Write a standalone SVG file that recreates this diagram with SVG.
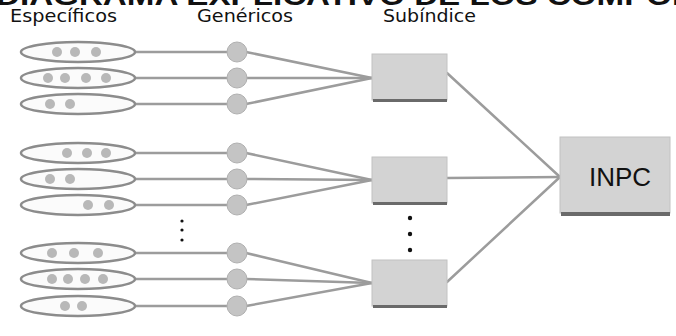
<svg xmlns="http://www.w3.org/2000/svg" width="676" height="336" viewBox="0 0 676 336">
  <defs>
    <style>
      .title { font-family: "Liberation Sans", Arial, sans-serif; font-weight: bold; font-size: 28px; fill: #111; }
      .hdr { font-family: "DejaVu Sans Condensed", "Liberation Sans", sans-serif; font-size: 18px; fill: #111; }
      .ell { fill: #fbfbfb; stroke: #8c8c8c; stroke-width: 2.5; }
      .dot { fill: #b8b8b8; }
      .gen { fill: #c4c4c4; stroke: #b0b0b0; stroke-width: 1; }
      .wire { stroke: #9c9c9c; stroke-width: 2.5; fill: none; stroke-linecap: round; }
      .box { fill: #d3d3d3; stroke: #c2c2c2; stroke-width: 1; }
      .shadow { fill: #6a6a6a; }
      .ellip { fill: #111; }
      .lbl { font-family: "Liberation Sans", Arial, sans-serif; font-size: 26px; fill: #111; }
    </style>
  </defs>

  <rect width="676" height="336" fill="#ffffff"/>

  <!-- heading, running off the top edge -->
  <text class="title" x="-4" y="5" textLength="700" lengthAdjust="spacingAndGlyphs">DIAGRAMA EXPLICATIVO DE LOS COMPON</text>

  <!-- column headers -->
  <text class="hdr" x="10" y="22" textLength="107" lengthAdjust="spacingAndGlyphs">Específicos</text>
  <text class="hdr" x="197" y="22" textLength="96" lengthAdjust="spacingAndGlyphs">Genéricos</text>
  <text class="hdr" x="383" y="22" textLength="93" lengthAdjust="spacingAndGlyphs">Subíndice</text>

  <!-- connectors -->
  <g id="connectors">
    <!-- specific -> generic -->
    <line class="wire" x1="135" y1="52" x2="228" y2="52"/>
    <line class="wire" x1="135" y1="78" x2="228" y2="78"/>
    <line class="wire" x1="135" y1="104" x2="228" y2="104"/>
    <line class="wire" x1="135" y1="153" x2="228" y2="153"/>
    <line class="wire" x1="135" y1="179" x2="228" y2="179"/>
    <line class="wire" x1="135" y1="205" x2="228" y2="205"/>
    <line class="wire" x1="135" y1="253" x2="228" y2="253"/>
    <line class="wire" x1="135" y1="279" x2="228" y2="279"/>
    <line class="wire" x1="135" y1="306" x2="228" y2="306"/>
    <!-- generic -> sub-index -->
    <line class="wire" x1="246" y1="52" x2="372" y2="78"/>
    <line class="wire" x1="246" y1="78" x2="372" y2="78"/>
    <line class="wire" x1="246" y1="104" x2="372" y2="78"/>
    <line class="wire" x1="246" y1="153" x2="372" y2="180"/>
    <line class="wire" x1="246" y1="179" x2="372" y2="180"/>
    <line class="wire" x1="246" y1="205" x2="372" y2="180"/>
    <line class="wire" x1="246" y1="253" x2="372" y2="283"/>
    <line class="wire" x1="246" y1="279" x2="372" y2="283"/>
    <line class="wire" x1="246" y1="306" x2="372" y2="283"/>
    <!-- sub-index -> INPC -->
    <line class="wire" x1="447" y1="73" x2="560" y2="177"/>
    <line class="wire" x1="447" y1="178" x2="560" y2="177"/>
    <line class="wire" x1="447" y1="282" x2="560" y2="177"/>
  </g>

  <!-- specific items -->
  <g id="esp-1"><ellipse class="ell" cx="78" cy="52" rx="57" ry="10"/>
    <circle class="dot" cx="57" cy="52" r="5"/><circle class="dot" cx="75" cy="52" r="5"/><circle class="dot" cx="96" cy="52" r="5"/></g>
  <g id="esp-2"><ellipse class="ell" cx="78" cy="78" rx="57" ry="10"/>
    <circle class="dot" cx="48" cy="78" r="5"/><circle class="dot" cx="65" cy="78" r="5"/><circle class="dot" cx="86" cy="78" r="5"/><circle class="dot" cx="106" cy="78" r="5"/></g>
  <g id="esp-3"><ellipse class="ell" cx="78" cy="104" rx="57" ry="10"/>
    <circle class="dot" cx="50" cy="104" r="5"/><circle class="dot" cx="70" cy="104" r="5"/></g>
  <g id="esp-4"><ellipse class="ell" cx="78" cy="153" rx="57" ry="10"/>
    <circle class="dot" cx="67" cy="153" r="5"/><circle class="dot" cx="87" cy="153" r="5"/><circle class="dot" cx="106" cy="153" r="5"/></g>
  <g id="esp-5"><ellipse class="ell" cx="78" cy="179" rx="57" ry="10"/>
    <circle class="dot" cx="50" cy="179" r="5"/><circle class="dot" cx="70" cy="179" r="5"/></g>
  <g id="esp-6"><ellipse class="ell" cx="78" cy="205" rx="57" ry="10"/>
    <circle class="dot" cx="88" cy="205" r="5"/><circle class="dot" cx="109" cy="205" r="5"/></g>
  <g id="esp-7"><ellipse class="ell" cx="78" cy="253" rx="57" ry="10"/>
    <circle class="dot" cx="52" cy="253" r="5"/><circle class="dot" cx="74" cy="253" r="5"/><circle class="dot" cx="98" cy="253" r="5"/></g>
  <g id="esp-8"><ellipse class="ell" cx="78" cy="279" rx="57" ry="10"/>
    <circle class="dot" cx="52" cy="279" r="5"/><circle class="dot" cx="68" cy="279" r="5"/><circle class="dot" cx="85" cy="279" r="5"/><circle class="dot" cx="103" cy="279" r="5"/></g>
  <g id="esp-9"><ellipse class="ell" cx="78" cy="306" rx="57" ry="10"/>
    <circle class="dot" cx="65" cy="306" r="5"/><circle class="dot" cx="82" cy="306" r="5"/></g>

  <!-- generic items -->
  <g id="gen-1"><circle class="gen" cx="237" cy="52" r="10"/></g>
  <g id="gen-2"><circle class="gen" cx="237" cy="78" r="10"/></g>
  <g id="gen-3"><circle class="gen" cx="237" cy="104" r="10"/></g>
  <g id="gen-4"><circle class="gen" cx="237" cy="153" r="10"/></g>
  <g id="gen-5"><circle class="gen" cx="237" cy="179" r="10"/></g>
  <g id="gen-6"><circle class="gen" cx="237" cy="205" r="10"/></g>
  <g id="gen-7"><circle class="gen" cx="237" cy="253" r="10"/></g>
  <g id="gen-8"><circle class="gen" cx="237" cy="279" r="10"/></g>
  <g id="gen-9"><circle class="gen" cx="237" cy="306" r="10"/></g>

  <!-- vertical ellipsis between generic groups -->
  <g id="gen-more">
    <circle class="ellip" cx="182" cy="221" r="1.6"/>
    <circle class="ellip" cx="182" cy="230" r="1.6"/>
    <circle class="ellip" cx="182" cy="240" r="1.6"/>
  </g>

  <!-- sub-indices -->
  <g id="sub-1">
    <rect class="box" x="372" y="54" width="75" height="46"/>
    <rect class="shadow" x="373" y="99" width="74" height="3"/>
  </g>
  <g id="sub-2">
    <rect class="box" x="372" y="157" width="75" height="46"/>
    <rect class="shadow" x="373" y="202" width="74" height="3"/>
  </g>
  <g id="sub-3">
    <rect class="box" x="372" y="260" width="75" height="46"/>
    <rect class="shadow" x="373" y="305" width="74" height="3"/>
  </g>

  <!-- vertical ellipsis between sub-indices -->
  <g id="sub-more">
    <circle class="ellip" cx="410" cy="218" r="2.2"/>
    <circle class="ellip" cx="410" cy="234" r="2.2"/>
    <circle class="ellip" cx="410" cy="250" r="2.2"/>
  </g>

  <!-- national index -->
  <g id="inpc">
    <rect class="box" x="560" y="137" width="110" height="76"/>
    <rect class="shadow" x="561" y="212" width="109" height="4"/>
    <text class="lbl" x="620" y="186" text-anchor="middle">INPC</text>
  </g>
</svg>
